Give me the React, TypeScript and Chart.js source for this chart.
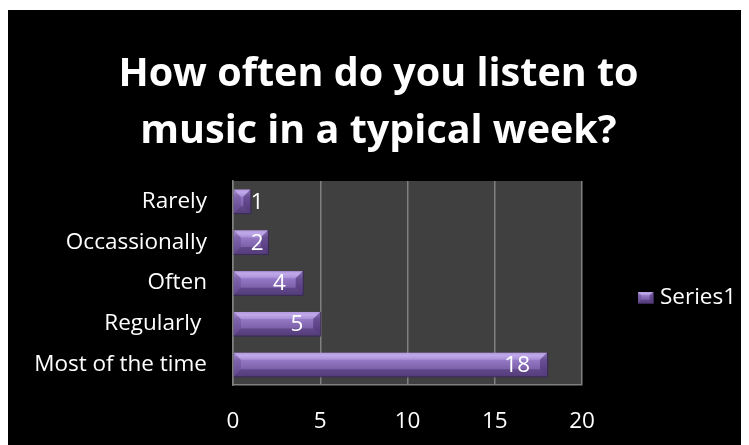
import React, { useEffect, useRef } from "react";
import { Chart, registerables } from "chart.js";

Chart.register(...registerables);

const categories = ["Rarely", "Occassionally", "Often", "Regularly ", "Most of the time"];
const values = [1, 2, 4, 5, 18];
const seriesName = "Series1";
const titleLines = ["How often do you listen to", "music in a typical week?"];
const xMin = 0;
const xMax = 20;
const xStep = 5;

const FONT = "'Open Sans'";
const LABEL_SIZE = 22.5;

function drawBevelBar(ctx: CanvasRenderingContext2D, x0: number, x1: number, yTop: number, yBot: number) {
  const h = yBot - yTop;
  const w = x1 - x0;
  const g = ctx.createLinearGradient(0, yTop, 0, yBot);
  g.addColorStop(0, "#a98dd6");
  g.addColorStop(0.12, "#bba3e6");
  g.addColorStop(0.3, "#9579c6");
  g.addColorStop(0.6, "#8266b0");
  g.addColorStop(1, "#684d92");
  ctx.fillStyle = g;
  ctx.fillRect(x0, yTop, w, h);
  const b = Math.min(h * 0.3, w / 2);
  ctx.fillStyle = "rgba(200,180,240,0.35)";
  ctx.beginPath();
  ctx.moveTo(x0, yTop);
  ctx.lineTo(x1, yTop);
  ctx.lineTo(x1 - b, yTop + b);
  ctx.lineTo(x0 + b, yTop + b);
  ctx.closePath();
  ctx.fill();
  ctx.fillStyle = "rgba(50,30,80,0.35)";
  ctx.beginPath();
  ctx.moveTo(x0, yBot);
  ctx.lineTo(x1, yBot);
  ctx.lineTo(x1 - b, yBot - b);
  ctx.lineTo(x0 + b, yBot - b);
  ctx.closePath();
  ctx.fill();
  ctx.fillStyle = "rgba(90,60,130,0.35)";
  ctx.beginPath();
  ctx.moveTo(x0, yTop);
  ctx.lineTo(x0 + b, yTop + b);
  ctx.lineTo(x0 + b, yBot - b);
  ctx.lineTo(x0, yBot);
  ctx.closePath();
  ctx.fill();
  ctx.fillStyle = "rgba(60,35,95,0.5)";
  ctx.beginPath();
  ctx.moveTo(x1, yTop);
  ctx.lineTo(x1 - b, yTop + b);
  ctx.lineTo(x1 - b, yBot - b);
  ctx.lineTo(x1, yBot);
  ctx.closePath();
  ctx.fill();
  ctx.strokeStyle = "#3a2858";
  ctx.lineWidth = 1;
  ctx.beginPath();
  ctx.moveTo(x1 + 0.5, yTop);
  ctx.lineTo(x1 + 0.5, yBot + 0.5);
  ctx.lineTo(x0, yBot + 0.5);
  ctx.stroke();
}

const bgPlugin = {
  id: "bgPlugin",
  beforeDraw(chart: any) {
    const { ctx, width, height, chartArea } = chart;
    ctx.save();
    ctx.fillStyle = "#000000";
    ctx.fillRect(0, 0, width, height);
    ctx.fillStyle = "#404040";
    ctx.fillRect(chartArea.left, chartArea.top, chartArea.right - chartArea.left, chartArea.bottom - chartArea.top);
    ctx.restore();
  },
};

const barPlugin = {
  id: "barPlugin",
  afterDatasetsDraw(chart: any) {
    const { ctx } = chart;
    const meta = chart.getDatasetMeta(0);
    ctx.save();
    ctx.font = `${LABEL_SIZE}px ${FONT}`;
    ctx.textBaseline = "middle";
    meta.data.forEach((el: any, i: number) => {
      const p = el.getProps(["x", "y", "base", "height"], true);
      const x0 = Math.min(p.base, p.x);
      const x1 = Math.max(p.base, p.x);
      drawBevelBar(ctx, x0, x1, p.y - p.height / 2, p.y + p.height / 2);
      const txt = String(values[i]);
      const w = ctx.measureText(txt).width;
      let left = x1 - 17 - w;
      if (left < x0 + 17) left = x0 + 17;
      ctx.textAlign = "left";
      ctx.fillStyle = "#ffffff";
      ctx.fillText(txt, left, p.y + 1);
    });
    // legend
    const ca = chart.chartArea;
    const lx = ca.right + 56;
    const ly = (ca.top + ca.bottom) / 2 + 15;
    drawBevelBar(ctx, lx, lx + 15, ly - 6, ly + 5);
    ctx.font = `${LABEL_SIZE}px ${FONT}`;
    ctx.fillStyle = "#ffffff";
    ctx.textAlign = "left";
    ctx.textBaseline = "middle";
    ctx.fillText(seriesName, lx + 22, ly);
    // title
    ctx.font = `bold 39.5px ${FONT}`;
    ctx.textAlign = "center";
    ctx.fillText(titleLines[0], chart.width / 2, 65);
    ctx.fillText(titleLines[1], chart.width / 2, 122);
    ctx.restore();
  },
};

export default function App() {
  const ref = useRef<HTMLCanvasElement | null>(null);
  useEffect(() => {
    if (!ref.current) return;
    const chart = new Chart(ref.current, {
      type: "bar",
      data: {
        labels: categories,
        datasets: [
          {
            label: seriesName,
            data: values,
            backgroundColor: "rgba(0,0,0,0)",
            borderWidth: 0,
            barPercentage: 0.58,
            categoryPercentage: 1,
          },
        ],
      },
      options: {
        indexAxis: "y",
        animation: false,
        responsive: false,
        events: [],
        layout: { padding: { left: 0, right: 167, top: 171, bottom: 0 } },
        plugins: {
          legend: { display: false },
          tooltip: { enabled: false },
          title: { display: false },
        },
        scales: {
          x: {
            min: xMin,
            max: xMax,
            ticks: { stepSize: xStep, color: "#ffffff", font: { family: FONT, size: LABEL_SIZE }, padding: 23 },
            grid: { color: "#808080", lineWidth: 1.5, drawTicks: false },
            border: { display: true, color: "#808080", width: 1.5 },
            afterFit(scale: any) {
              scale.height = 60;
            },
          },
          y: {
            ticks: { color: "#ffffff", font: { family: FONT, size: LABEL_SIZE }, padding: 26 },
            grid: { display: false, drawTicks: false },
            border: { display: true, color: "#808080", width: 1.5 },
            afterFit(scale: any) {
              scale.width = 225;
            },
          },
        },
      },
      plugins: [bgPlugin, barPlugin],
    } as any);
    return () => chart.destroy();
  }, []);
  return (
    <div style={{ marginTop: 2, width: 741, height: 435 }}>
      <canvas ref={ref} width={741} height={435} style={{ display: "block" }} />
    </div>
  );
}
